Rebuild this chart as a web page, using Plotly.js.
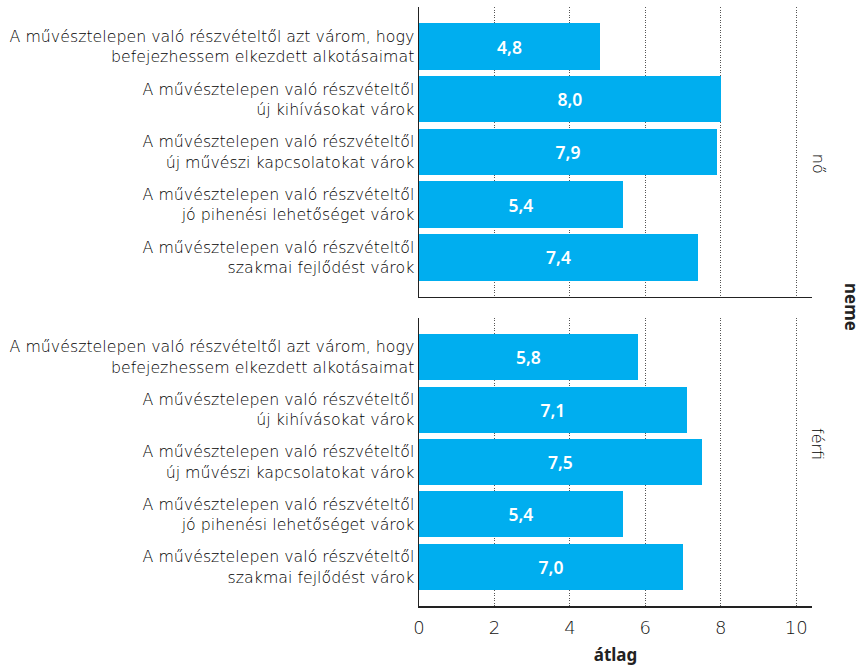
<!DOCTYPE html>
<html>
<head>
<meta charset="utf-8">
<script src="https://cdn.plot.ly/plotly-3.0.1.min.js"></script>
<style>html,body{margin:0;padding:0;background:#fff;}#chart{width:865px;height:666px;}</style>
</head>
<body>
<div id="chart"></div>
<script>
const categories = [
  "A művésztelepen való részvételtől azt várom, hogy<br>befejezhessem elkezdett alkotásaimat",
  "A művésztelepen való részvételtől<br>új kihívásokat várok",
  "A művésztelepen való részvételtől<br>új művészi kapcsolatokat várok",
  "A művésztelepen való részvételtől<br>jó pihenési lehetőséget várok",
  "A művésztelepen való részvételtől<br>szakmai fejlődést várok"
];
const valuesNo = [4.8, 8.0, 7.9, 5.4, 7.4];
const valuesFerfi = [5.8, 7.1, 7.5, 5.4, 7.0];
const panelLabels = ["nő", "férfi"];
const xTicks = [0, 2, 4, 6, 8, 10];

const FONT = "Noto Sans, Open Sans, sans-serif";
const LFONT = "DejaVu Sans, sans-serif";
const barColor = "#00AEEF";

function barTrace(vals, yax) {
  return {
    type: "bar", orientation: "h",
    x: vals, y: categories, xaxis: "x", yaxis: yax,
    width: 0.88,
    marker: {color: barColor, line: {width: 0}},
    text: vals.map(v => v.toFixed(1).replace(".", ",")),
    textposition: "inside", insidetextanchor: "middle",
    textfont: {family: FONT, size: 17.5, color: "#ffffff", weight: 600},
    hoverinfo: "skip", showlegend: false, cliponaxis: false
  };
}

const yCommon = {
  type: "category",
  categoryorder: "array", categoryarray: categories,
  autorange: false, range: [4.75, -0.75],
  showline: true, linecolor: "#222", linewidth: 1.5,
  ticks: "", showgrid: false, zeroline: false,
  tickfont: {family: LFONT, size: 15.8, color: "#000", weight: 200},
  fixedrange: true
};

const GRIDDASH = "1px,1.5px";

const layout = {
  width: 865, height: 666,
  margin: {l: 419, r: 53, t: 7, b: 60},
  paper_bgcolor: "#fff", plot_bgcolor: "#fff",
  separators: ", ",
  bargap: 0,
  xaxis: {
    range: [0, 10.42], tickvals: xTicks, ticktext: xTicks.map(String),
    showline: true, linecolor: "#222", linewidth: 1.5,
    showgrid: true, gridcolor: "#555", griddash: GRIDDASH, gridwidth: 1,
    zeroline: false, ticks: "", ticklabelstandoff: 5,
    tickfont: {family: LFONT, size: 18, color: "#111", weight: 200},
    title: {text: "átlag", font: {family: FONT, size: 17, color: "#222", weight: 700}, standoff: 13},
    anchor: "y2", fixedrange: true
  },
  xaxis2: {
    matches: "x", overlaying: "x", anchor: "y",
    range: [0, 10.42], tickvals: xTicks,
    showline: true, linecolor: "#222", linewidth: 1.5,
    showgrid: true, gridcolor: "#555", griddash: GRIDDASH, gridwidth: 1,
    zeroline: false, ticks: "", showticklabels: false, fixedrange: true
  },
  yaxis: Object.assign({}, yCommon, {domain: [0.516, 1], anchor: "x"}),
  yaxis2: Object.assign({}, yCommon, {domain: [0, 0.481], anchor: "x"}),
  annotations: [
    {text: panelLabels[0], xref: "paper", yref: "paper", x: 1.045, y: 0.758, showarrow: false,
     textangle: 90, font: {family: LFONT, size: 16, color: "#000", weight: 200}},
    {text: panelLabels[1], xref: "paper", yref: "paper", x: 1.045, y: 0.24, showarrow: false,
     textangle: 90, font: {family: LFONT, size: 16, color: "#000", weight: 200}},
    {text: "neme", xref: "paper", yref: "paper", x: 1.135, y: 0.5, showarrow: false,
     textangle: 90, font: {family: FONT, size: 17, color: "#222", weight: 700}}
  ]
};

const t1 = barTrace(valuesNo, "y");
t1.xaxis = "x2";
const t2 = barTrace(valuesFerfi, "y2");

Plotly.newPlot("chart", [t1, t2], layout, {displayModeBar: false, staticPlot: true});
</script>
</body>
</html>
